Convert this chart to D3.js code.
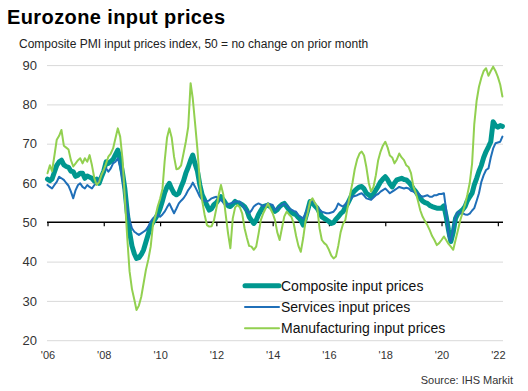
<!DOCTYPE html>
<html>
<head>
<meta charset="utf-8">
<script src="https://cdn.jsdelivr.net/npm/d3@7"></script>
<style>
body { margin: 0; background: #fff; }
text { font-family: Arial, "Liberation Sans", sans-serif; }
</style>
</head>
<body>
<svg id="chart" width="528" height="391"></svg>
<script>
// monthly series, Jan 2006 .. Mar 2022
var firstMonth = new Date(2006, 0, 1);

var composite = [
    61.0, 60.6, 61.0, 62.8, 64.5, 65.4, 65.8, 64.6, 64.2, 64.0, 63.0, 62.9, // 2006
    61.7, 62.0, 62.5, 62.5, 61.2, 61.8, 61.5, 61.2, 60.5, 61.0, 59.9, 61.5, // 2007
    63.0, 65.4, 65.0, 65.5, 66.0, 67.2, 68.4, 66.0, 62.5, 58.5, 52.5, 47.5, // 2008
    44.0, 42.0, 40.8, 41.0, 41.8, 43.0, 45.0, 47.0, 49.0, 50.0, 51.0, 52.0, // 2009
    53.5, 55.5, 57.5, 59.0, 59.9, 58.5, 57.4, 57.0, 57.4, 59.0, 60.5, 62.5, // 2010
    64.0, 65.8, 67.1, 64.8, 63.0, 59.5, 57.0, 55.7, 54.3, 53.1, 53.5, 54.5, // 2011
    55.0, 55.8, 56.5, 55.7, 54.8, 54.2, 54.0, 54.6, 55.3, 54.9, 54.8, 54.5, // 2012
    54.0, 53.0, 51.4, 50.5, 49.7, 50.5, 51.9, 53.0, 54.0, 54.2, 54.4, 54.0, // 2013
    53.5, 52.8, 53.2, 54.0, 54.5, 54.8, 54.0, 53.2, 52.5, 52.2, 51.9, 51.2, // 2014
    50.6, 49.3, 51.0, 53.1, 55.3, 55.0, 54.2, 53.6, 52.5, 51.4, 51.0, 50.6, // 2015
    50.2, 49.7, 49.9, 50.8, 51.4, 52.2, 52.7, 53.8, 54.8, 56.0, 57.4, 58.0, // 2016
    58.6, 59.0, 59.1, 58.5, 57.4, 57.0, 56.5, 57.2, 58.2, 59.2, 60.3, 61.0, // 2017
    61.6, 60.8, 59.8, 59.0, 60.0, 60.8, 61.0, 61.2, 60.9, 60.8, 60.2, 59.5, // 2018
    58.5, 57.8, 57.0, 56.1, 55.4, 55.0, 54.8, 54.3, 54.0, 53.8, 53.6, 53.6, // 2019
    53.6, 54.2, 51.5, 48.0, 45.1, 47.5, 51.0, 52.2, 52.7, 53.2, 54.0, 55.5, // 2020
    56.5, 57.4, 59.5, 61.2, 63.0, 64.5, 66.5, 68.0, 69.2, 70.5, 75.6, 74.6, // 2021
    74.2, 74.6, 74.4                                                        // 2022
];

var services = [
    59.5, 59.0, 58.6, 59.5, 60.3, 61.6, 61.2, 60.8, 60.0, 59.3, 57.8, 56.1, // 2006
    58.2, 59.5, 59.9, 59.0, 58.6, 59.5, 59.0, 58.6, 59.5, 59.9, 60.8, 62.0, // 2007
    63.3, 63.7, 62.9, 63.7, 65.0, 65.4, 66.3, 64.2, 60.8, 56.9, 53.1, 50.6, // 2008
    48.5, 47.6, 47.2, 46.8, 47.2, 47.6, 48.0, 48.9, 50.2, 51.0, 51.4, 51.9, // 2009
    51.4, 52.0, 52.7, 53.8, 54.8, 53.5, 52.3, 53.5, 54.8, 55.5, 56.1, 57.0, // 2010
    58.2, 59.0, 60.1, 59.0, 57.8, 56.5, 55.7, 55.5, 55.3, 55.6, 56.1, 56.3, // 2011
    56.5, 56.0, 55.7, 55.0, 54.4, 54.6, 54.8, 55.0, 55.3, 55.3, 55.3, 54.5, // 2012
    53.6, 53.0, 52.3, 53.0, 54.0, 54.5, 54.8, 54.5, 54.0, 54.4, 54.8, 54.6, // 2013
    54.4, 53.1, 53.5, 54.0, 54.4, 54.8, 54.3, 53.6, 53.2, 52.9, 52.7, 51.8, // 2014
    51.4, 51.0, 52.2, 53.6, 55.0, 55.7, 54.8, 54.0, 53.3, 52.7, 52.5, 52.3, // 2015
    52.3, 52.5, 52.7, 53.5, 54.8, 54.3, 54.0, 54.6, 55.3, 55.8, 56.5, 56.7, // 2016
    56.9, 57.2, 57.4, 56.8, 56.1, 55.9, 55.7, 56.3, 56.9, 57.2, 57.8, 58.2, // 2017
    58.6, 58.0, 57.4, 57.8, 58.2, 58.6, 59.0, 58.8, 58.6, 58.8, 58.6, 58.0, // 2018
    57.8, 57.6, 57.4, 56.8, 56.5, 56.7, 56.9, 56.5, 56.5, 56.9, 56.9, 57.2, // 2019
    57.2, 57.4, 53.1, 46.4, 45.1, 48.5, 51.4, 52.7, 52.5, 52.3, 52.0, 51.9, // 2020
    52.2, 53.0, 53.6, 55.5, 57.4, 60.3, 62.0, 63.3, 63.7, 66.5, 68.8, 70.1, // 2021
    70.3, 70.5, 71.8                                                        // 2022
];

var manufacturing = [
    62.5, 64.5, 63.0, 67.0, 71.0, 72.0, 73.5, 69.5, 69.0, 68.5, 65.8, 64.2, // 2006
    65.0, 65.8, 66.3, 65.0, 66.3, 65.4, 67.1, 64.5, 61.2, 59.5, 60.2, 62.0, // 2007
    63.3, 65.0, 66.7, 67.5, 68.8, 71.4, 73.9, 71.8, 66.0, 56.0, 46.0, 37.5, // 2008
    33.0, 30.3, 27.7, 28.8, 31.0, 34.5, 37.9, 40.5, 43.8, 49.5, 51.5, 54.0, // 2009
    56.0, 58.5, 65.5, 71.5, 73.9, 71.5, 66.7, 63.5, 63.7, 64.5, 67.5, 70.5, // 2010
    74.3, 85.4, 81.5, 75.0, 68.5, 60.0, 55.5, 52.0, 49.3, 48.9, 49.0, 50.5, // 2011
    53.5, 57.0, 59.5, 57.0, 52.0, 47.2, 43.4, 51.0, 53.8, 54.4, 53.8, 52.3, // 2012
    48.5, 46.0, 44.0, 43.8, 43.0, 43.8, 47.0, 50.6, 52.3, 53.5, 54.8, 53.5, // 2013
    52.3, 50.5, 47.5, 45.5, 48.5, 51.5, 52.7, 52.0, 51.4, 49.7, 46.5, 44.0, // 2014
    42.5, 46.0, 50.0, 52.5, 55.3, 56.1, 55.0, 54.0, 48.5, 45.5, 44.7, 44.2, // 2015
    43.0, 41.5, 40.8, 41.3, 44.0, 47.5, 49.5, 50.6, 54.0, 57.0, 60.0, 63.5, // 2016
    66.0, 67.5, 68.0, 67.0, 64.0, 60.0, 57.8, 59.0, 62.0, 65.8, 68.0, 69.5, // 2017
    70.5, 69.0, 67.0, 66.5, 65.0, 66.0, 67.5, 66.5, 65.8, 64.5, 64.0, 62.5, // 2018
    59.1, 57.5, 55.5, 53.0, 51.4, 50.3, 49.3, 48.0, 46.5, 45.5, 44.2, 44.7, // 2019
    45.5, 46.4, 45.5, 44.5, 43.8, 43.0, 45.5, 48.0, 50.6, 52.5, 54.5, 57.0, // 2020
    60.0, 65.0, 75.0, 81.0, 84.5, 86.8, 88.5, 89.2, 87.3, 88.5, 89.6, 88.5, // 2021
    87.0, 85.0, 82.0                                                        // 2022
];

var yTicks = [20, 30, 40, 50, 60, 70, 80, 90];
var xTickYears = [2006, 2008, 2010, 2012, 2014, 2016, 2018, 2020, 2022];
var xTickLabels = ["'06", "'08", "'10", "'12", "'14", "'16", "'18", "'20", "'22"];

var seriesNames = ["Composite input prices", "Services input prices", "Manufacturing input prices"];
var seriesColors = ["#00978f", "#1f6fb8", "#92d050"];
var seriesWidths = [5, 2, 2];

function build_chart()
{
    var svg = d3.select("#chart");
    var left = 47, right = 503;

    var dates = composite.map(function(d, i) { return d3.timeMonth.offset(firstMonth, i); });
    var allSeries = [composite, services, manufacturing];

    var x = d3.scaleTime()
        .domain([firstMonth, dates[dates.length - 1]])
        .range([47.5, 502.4]);

    var y = d3.scaleLinear()
        .domain([20, 90])
        .range([340.2, 65.1]);

    // titles
    svg.append("text")
        .attr("x", 7).attr("y", 24)
        .style("font-size", "20px").style("font-weight", "bold")
        .style("letter-spacing", "0.4px")
        .attr("fill", "#000")
        .text("Eurozone input prices");

    svg.append("text")
        .attr("x", 19).attr("y", 48)
        .style("font-size", "12px")
        .attr("fill", "#222")
        .text("Composite PMI input prices index, 50 = no change on prior month");

    // y gridlines + labels
    var yAxis = svg.append("g")
        .attr("transform", "translate(" + left + ",0)")
        .call(d3.axisLeft(y).tickValues(yTicks).tickSize(-(right - left)).tickPadding(10));
    yAxis.select(".domain").remove();
    yAxis.selectAll("line")
        .attr("stroke", function(d) { return d === 50 ? "none" : "#d9d9d9"; });
    yAxis.selectAll("text")
        .style("font-size", "13px").attr("fill", "#333");

    // 50 line with ticks
    var tickDates = xTickYears.map(function(yr) { return new Date(yr, 0, 1); });
    var zeroAxis = svg.append("g")
        .attr("transform", "translate(0," + y(50) + ")")
        .call(d3.axisBottom(x).tickValues(tickDates).tickSize(4).tickSizeOuter(0).tickFormat(""));
    zeroAxis.select(".domain").remove();
    zeroAxis.selectAll("line").attr("stroke", "#000").attr("stroke-width", 1.2);
    svg.append("line")
        .attr("x1", left).attr("x2", right)
        .attr("y1", y(50)).attr("y2", y(50))
        .attr("stroke", "#000").attr("stroke-width", 1.4);

    // x labels
    var xLabels = svg.append("g")
        .attr("transform", "translate(0,340)")
        .call(d3.axisBottom(x).tickValues(tickDates).tickSize(0).tickPadding(11)
            .tickFormat(function(d, i) { return xTickLabels[i]; }));
    xLabels.select(".domain").remove();
    xLabels.selectAll("text").style("font-size", "11px").attr("fill", "#333");

    // series lines
    var line = d3.line()
        .x(function(d, i) { return x(dates[i]); })
        .y(function(d) { return y(d); });

    svg.append("g").selectAll("path")
        .data(allSeries)
        .enter().append("path")
        .attr("d", line)
        .attr("fill", "none")
        .attr("stroke", function(d, i) { return seriesColors[i]; })
        .attr("stroke-width", function(d, i) { return seriesWidths[i]; })
        .attr("stroke-linejoin", "round")
        .attr("stroke-linecap", "round");

    // legend
    var legend = svg.append("g").selectAll("g")
        .data(seriesNames)
        .enter().append("g")
        .attr("transform", function(d, i) { return "translate(245," + (285.7 + i * 21.3) + ")"; });
    legend.append("line")
        .attr("x1", 0).attr("x2", 34)
        .attr("stroke", function(d, i) { return seriesColors[i]; })
        .attr("stroke-width", function(d, i) { return seriesWidths[i]; })
        .attr("stroke-linecap", "round");
    legend.append("text")
        .attr("x", 36).attr("dy", "0.35em")
        .style("font-size", "14px").attr("fill", "#111")
        .text(function(d) { return d; });

    svg.append("text")
        .attr("x", 513).attr("y", 384)
        .attr("text-anchor", "end")
        .style("font-size", "11px").attr("fill", "#333")
        .text("Source: IHS Markit");
}

build_chart();
</script>
</body>
</html>
